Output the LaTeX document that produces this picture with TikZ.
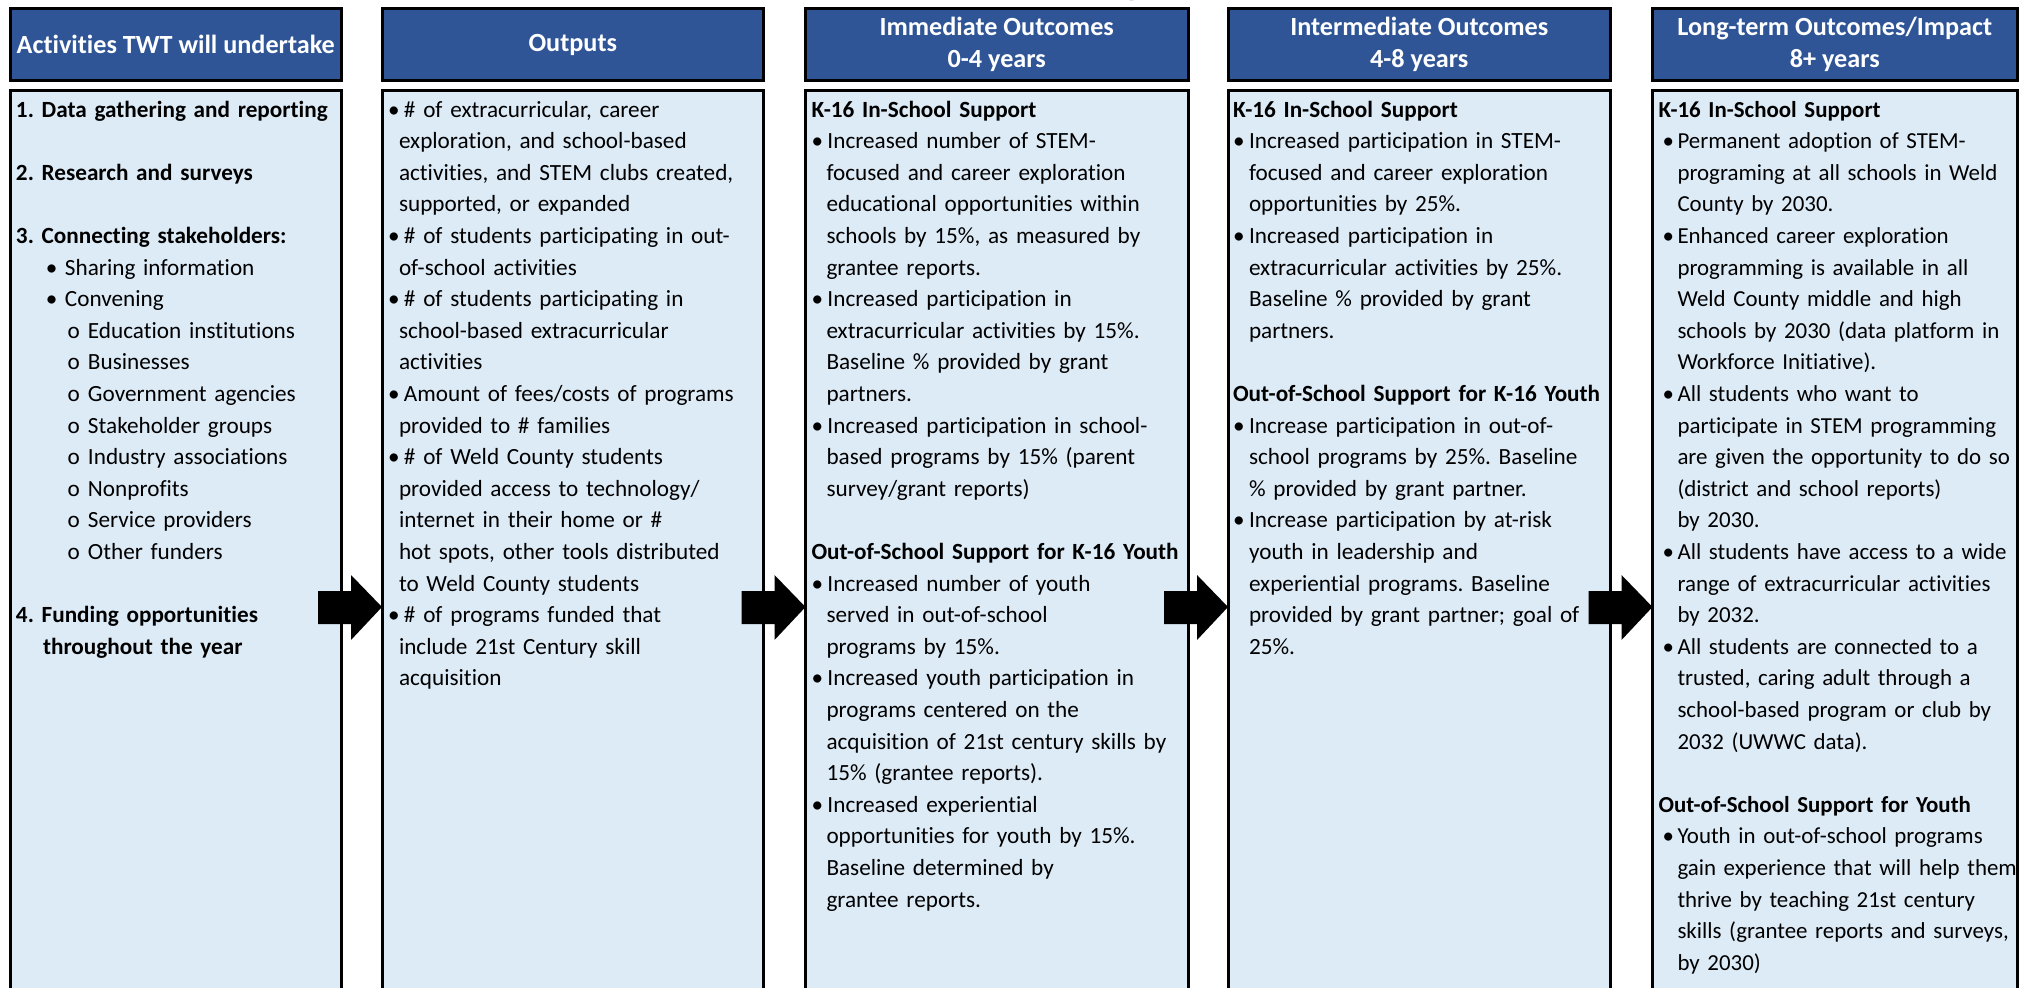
\documentclass[tikz,border=0pt]{standalone}
\usepackage{fontspec}
\setmainfont{Carlito}[Ligatures={NoCommon}]
\usetikzlibrary{calc}
\definecolor{hdrblue}{HTML}{2F5597}
\definecolor{bodyblue}{HTML}{DDEBF7}
\newlength{\bw}\newlength{\iw}\newlength{\bi}
\newcommand{\bu}{\hspace*{\bi}\makebox[\bw][l]{•}}
\newcommand{\ind}{\hspace*{\iw}}
\newcommand{\blank}{\\[15.8pt]}
\frenchspacing
\begin{document}
\begin{tikzpicture}[x=0.5pt,y=-0.5pt,
  hdr/.style={draw=black, line width=1.5pt, fill=hdrblue, inner sep=0pt, outer sep=0pt, anchor=north west,
     minimum height=36pt, text=white, font=\bfseries\fontsize{13.1}{16}\selectfont, align=center},
  bodyb/.style={draw=black, line width=1.5pt, fill=bodyblue, inner sep=0pt, outer sep=0pt, anchor=north west,
     minimum height=460pt},
  coltext/.style={anchor=north west, inner sep=0pt, outer sep=0pt, text width=230pt, align=left,
     font=\fontsize{11.6}{15.8}\selectfont},
  arr/.style={fill=black}]
\useasboundingbox (0,0) rectangle (2033,988);
\clip (0,0) rectangle (2033,988);
\fill[white] (0,0) rectangle (2033,988);

% title fragment
\node[inner sep=0pt, anchor=base, font=\bfseries\fontsize{30}{36}\selectfont] (titleg) at (1133,-9) {g};

% headers
\node[hdr, minimum width=165.75pt] (h1) at (10,8.5) {Activities TWT will undertake};
\node[hdr, minimum width=190.75pt] (h2) at (382,8.5) {Outputs};
\node[hdr, minimum width=191.25pt] (h3) at (805.5,8.5) {Immediate Outcomes\\0-4 years};
\node[hdr, minimum width=191.25pt] (h4) at (1228,8.5) {Intermediate Outcomes\\4-8 years};
\node[hdr, minimum width=182.25pt] (h5) at (1652.5,8.5) {Long-term Outcomes/Impact\\8+ years};

% bodies
\node[bodyb, minimum width=165.75pt] (b1) at (10,91) {};
\node[bodyb, minimum width=190.75pt] (b2) at (382,91) {};
\node[bodyb, minimum width=191.25pt] (b3) at (805.5,91) {};
\node[bodyb, minimum width=191.25pt] (b4) at (1228,91) {};
\node[bodyb, minimum width=182.25pt] (b5) at (1652.5,91) {};

% column 1
\node[coltext] (t1) at (16,95) {\strut\textbf{1. Data gathering and reporting}\blank
\textbf{2. Research and surveys}\blank
\textbf{3. Connecting stakeholders:}\\
\hspace*{15pt}\makebox[9.5pt][l]{•}Sharing information\\
\hspace*{15pt}\makebox[9.5pt][l]{•}Convening\\
\hspace*{25.75pt}\makebox[10.25pt][l]{o}Education institutions\\
\hspace*{25.75pt}\makebox[10.25pt][l]{o}Businesses\\
\hspace*{25.75pt}\makebox[10.25pt][l]{o}Government agencies\\
\hspace*{25.75pt}\makebox[10.25pt][l]{o}Stakeholder groups\\
\hspace*{25.75pt}\makebox[10.25pt][l]{o}Industry associations\\
\hspace*{25.75pt}\makebox[10.25pt][l]{o}Nonprofits\\
\hspace*{25.75pt}\makebox[10.25pt][l]{o}Service providers\\
\hspace*{25.75pt}\makebox[10.25pt][l]{o}Other funders\blank
\textbf{4. Funding opportunities}\\
\hspace*{13.5pt}\textbf{throughout the year}};

% column 2
\node[coltext] (t2) at (388,95) {\setlength{\bi}{0pt}\setlength{\bw}{8pt}\setlength{\iw}{5.5pt}%
\strut\bu\# of extracurricular, career\\
\ind exploration, and school-based\\
\ind activities, and STEM clubs created,\\
\ind supported, or expanded\\
\bu\# of students participating in out-\\
\ind of-school activities\\
\bu\# of students participating in\\
\ind school-based extracurricular\\
\ind activities\\
\bu Amount of fees/costs of programs\\
\ind provided to \# families\\
\bu\# of Weld County students\\
\ind provided access to technology/\\
\ind internet in their home or \#\\
\ind hot spots, other tools distributed\\
\ind to Weld County students\\
\bu\# of programs funded that\\
\ind include 21st Century skill\\
\ind acquisition};

% column 3
\node[coltext] (t3) at (811.5,95) {\setlength{\bi}{0pt}\setlength{\bw}{8pt}\setlength{\iw}{7.5pt}%
\strut\textbf{K-16 In-School Support}\\
\bu Increased number of STEM-\\
\ind focused and career exploration\\
\ind educational opportunities within\\
\ind schools by 15\%, as measured by\\
\ind grantee reports.\\
\bu Increased participation in\\
\ind extracurricular activities by 15\%.\\
\ind Baseline \% provided by grant\\
\ind partners.\\
\bu Increased participation in school-\\
\ind based programs by 15\% (parent\\
\ind survey/grant reports)\blank
\textbf{Out-of-School Support for K-16 Youth}\\
\bu Increased number of youth\\
\ind served in out-of-school\\
\ind programs by 15\%.\\
\bu Increased youth participation in\\
\ind programs centered on the\\
\ind acquisition of 21st century skills by\\
\ind 15\% (grantee reports).\\
\bu Increased experiential\\
\ind opportunities for youth by 15\%.\\
\ind Baseline determined by\\
\ind grantee reports.};

% column 4
\node[coltext] (t4) at (1233,95) {\setlength{\bi}{0pt}\setlength{\bw}{8pt}\setlength{\iw}{8pt}%
\strut\textbf{K-16 In-School Support}\\
\bu Increased participation in STEM-\\
\ind focused and career exploration\\
\ind opportunities by 25\%.\\
\bu Increased participation in\\
\ind extracurricular activities by 25\%.\\
\ind Baseline \% provided by grant\\
\ind partners.\blank
\textbf{Out-of-School Support for K-16 Youth}\\
\bu Increase participation in out-of-\\
\ind school programs by 25\%. Baseline\\
\ind \% provided by grant partner.\\
\bu Increase participation by at-risk\\
\ind youth in leadership and\\
\ind experiential programs. Baseline\\
\ind provided by grant partner; goal of\\
\ind 25\%.};

% column 5
\node[coltext, font=\fontsize{11.45}{15.8}\selectfont] (t5) at (1658.5,95) {\setlength{\bi}{2pt}\setlength{\bw}{7.5pt}\setlength{\iw}{9.5pt}%
\strut\textbf{K-16 In-School Support}\\
\bu Permanent adoption of STEM-\\
\ind programing at all schools in Weld\\
\ind County by 2030.\\
\bu Enhanced career exploration\\
\ind programming is available in all\\
\ind Weld County middle and high\\
\ind schools by 2030 (data platform in\\
\ind Workforce Initiative).\\
\bu All students who want to\\
\ind participate in STEM programming\\
\ind are given the opportunity to do so\\
\ind (district and school reports)\\
\ind by 2030.\\
\bu All students have access to a wide\\
\ind range of extracurricular activities\\
\ind by 2032.\\
\bu All students are connected to a\\
\ind trusted, caring adult through a\\
\ind school-based program or club by\\
\ind 2032 (UWWC data).\blank
\textbf{Out-of-School Support for Youth}\\
\bu Youth in out-of-school programs\\
\ind gain experience that will help them\\
\ind thrive by teaching 21st century\\
\ind skills (grantee reports and surveys,\\
\ind by 2030)};

% arrows
\foreach \nxt/\nm in {b2/a1, b3/a2, b4/a3, b5/a4}{
  \path (\nxt.west |- 0,607) coordinate (\nm);
  \fill[arr] (\nm) -- ++(-31,-32) -- ++(0,16) -- ++(-33,0) -- ++(0,33) -- ++(33,0) -- ++(0,16) -- cycle;
}
\end{tikzpicture}
\end{document}
